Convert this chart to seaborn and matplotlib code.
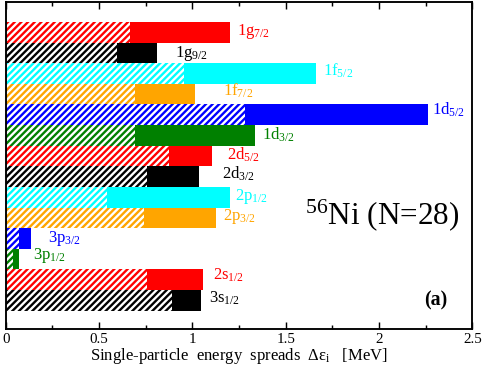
import matplotlib
matplotlib.use('Agg')
import matplotlib.pyplot as plt
import pandas as pd
import seaborn as sns
from matplotlib.ticker import MultipleLocator, FormatStrFormatter

# single-particle states, top to bottom
orbits = ['1g', '1g', '1f', '1f', '1d', '1d', '2d', '2d', '2p', '2p', '3p', '3p', '2s', '3s']
js = ['7/2', '9/2', '5/2', '7/2', '5/2', '3/2', '5/2', '3/2', '1/2', '3/2', '3/2', '1/2', '1/2', '1/2']
hatched = [0.666, 0.594, 0.955, 0.692, 1.282, 0.692, 0.875, 0.755, 0.541, 0.741, 0.073, 0.041, 0.755, 0.889]
total = [1.201, 0.812, 1.664, 1.014, 2.260, 1.337, 1.107, 1.035, 1.201, 1.126, 0.134, 0.073, 1.055, 1.048]
colors = ['red', 'black', 'cyan', 'orange', 'blue', 'green', 'red',
          'black', 'cyan', 'orange', 'blue', 'green', 'red', 'black']

# label offsets from bar end / bar centre, in pixels (dx right, dy up to baseline)
label_dx = [7, 18, 6.5, 28, 4.6, 6.5, 14.5, 22.7, 5, 7.3, 17.6, 14, 10.3, 8]
label_dy = [-2.7, -3.8, -2.5, -1, -0.3, -4, -3.4, -1.8, -3, -1.7, -3.5, 0.5, 0, -2.3]

DPI = 80
plt.rcParams['hatch.linewidth'] = 2.1
plt.rcParams['font.family'] = 'serif'
plt.rcParams['font.serif'] = ['Liberation Serif', 'DejaVu Serif']
plt.rcParams['mathtext.fontset'] = 'custom'
plt.rcParams['mathtext.rm'] = 'Liberation Serif'
plt.rcParams['mathtext.it'] = 'Liberation Serif:italic'
plt.rcParams['mathtext.bf'] = 'Liberation Serif:bold'

df = pd.DataFrame({'state': [o + j for o, j in zip(orbits, js)],
                   'total': total, 'hatched': hatched})

fig = plt.figure(figsize=(485 / DPI, 371 / DPI), dpi=DPI)
ax = fig.add_axes([5.7 / 485, 1 - 329 / 371, (472.4 - 5.7) / 485, 327 / 371])

sns.barplot(data=df, x='total', y='state', hue='state', palette=colors,
            saturation=1, width=1, linewidth=0, errorbar=None, legend=False, ax=ax)
sns.barplot(data=df, x='hatched', y='state', hue='state', palette=colors,
            saturation=1, width=1, linewidth=0, edgecolor='white', hatch='////',
            errorbar=None, legend=False, ax=ax)

for i, (o, j, t, c) in enumerate(zip(orbits, js, total, colors)):
    ax.annotate(o + r'$_{\mathrm{' + j + '}}$', xy=(t, i),
                xytext=(label_dx[i], label_dy[i]), textcoords='offset pixels',
                ha='left', va='baseline', color=c, fontsize=15)

ax.text(0.641, 0.321, r'$^{\mathrm{56}}$Ni (N=28)', transform=ax.transAxes,
        ha='left', va='baseline', fontsize=28)
ax.text(0.896, 0.073, '(a)', transform=ax.transAxes, ha='left', va='baseline',
        fontsize=18, fontweight='bold')

ax.set_xlim(0, 2.5)
ax.set_ylim(14.39, -1.47)
ax.set_yticks([])
ax.set_ylabel('')
ax.set_xlabel('Single-particle  energy  spreads  Δε$_{\\mathrm{i}}$   [MeV]',
              fontsize=15, labelpad=0)
ax.xaxis.set_major_locator(MultipleLocator(0.5))
ax.xaxis.set_minor_locator(MultipleLocator(0.25))
ax.xaxis.set_major_formatter(FormatStrFormatter('%g'))
ax.tick_params(axis='x', which='both', direction='in', top=True, labelsize=13.5, pad=4)
ax.tick_params(axis='x', which='major', length=6.3, width=1.3)
ax.tick_params(axis='x', which='minor', length=3.6, width=1.3)
for sp in ax.spines.values():
    sp.set_linewidth(1.7)

fig.savefig('out.png', dpi=DPI)
